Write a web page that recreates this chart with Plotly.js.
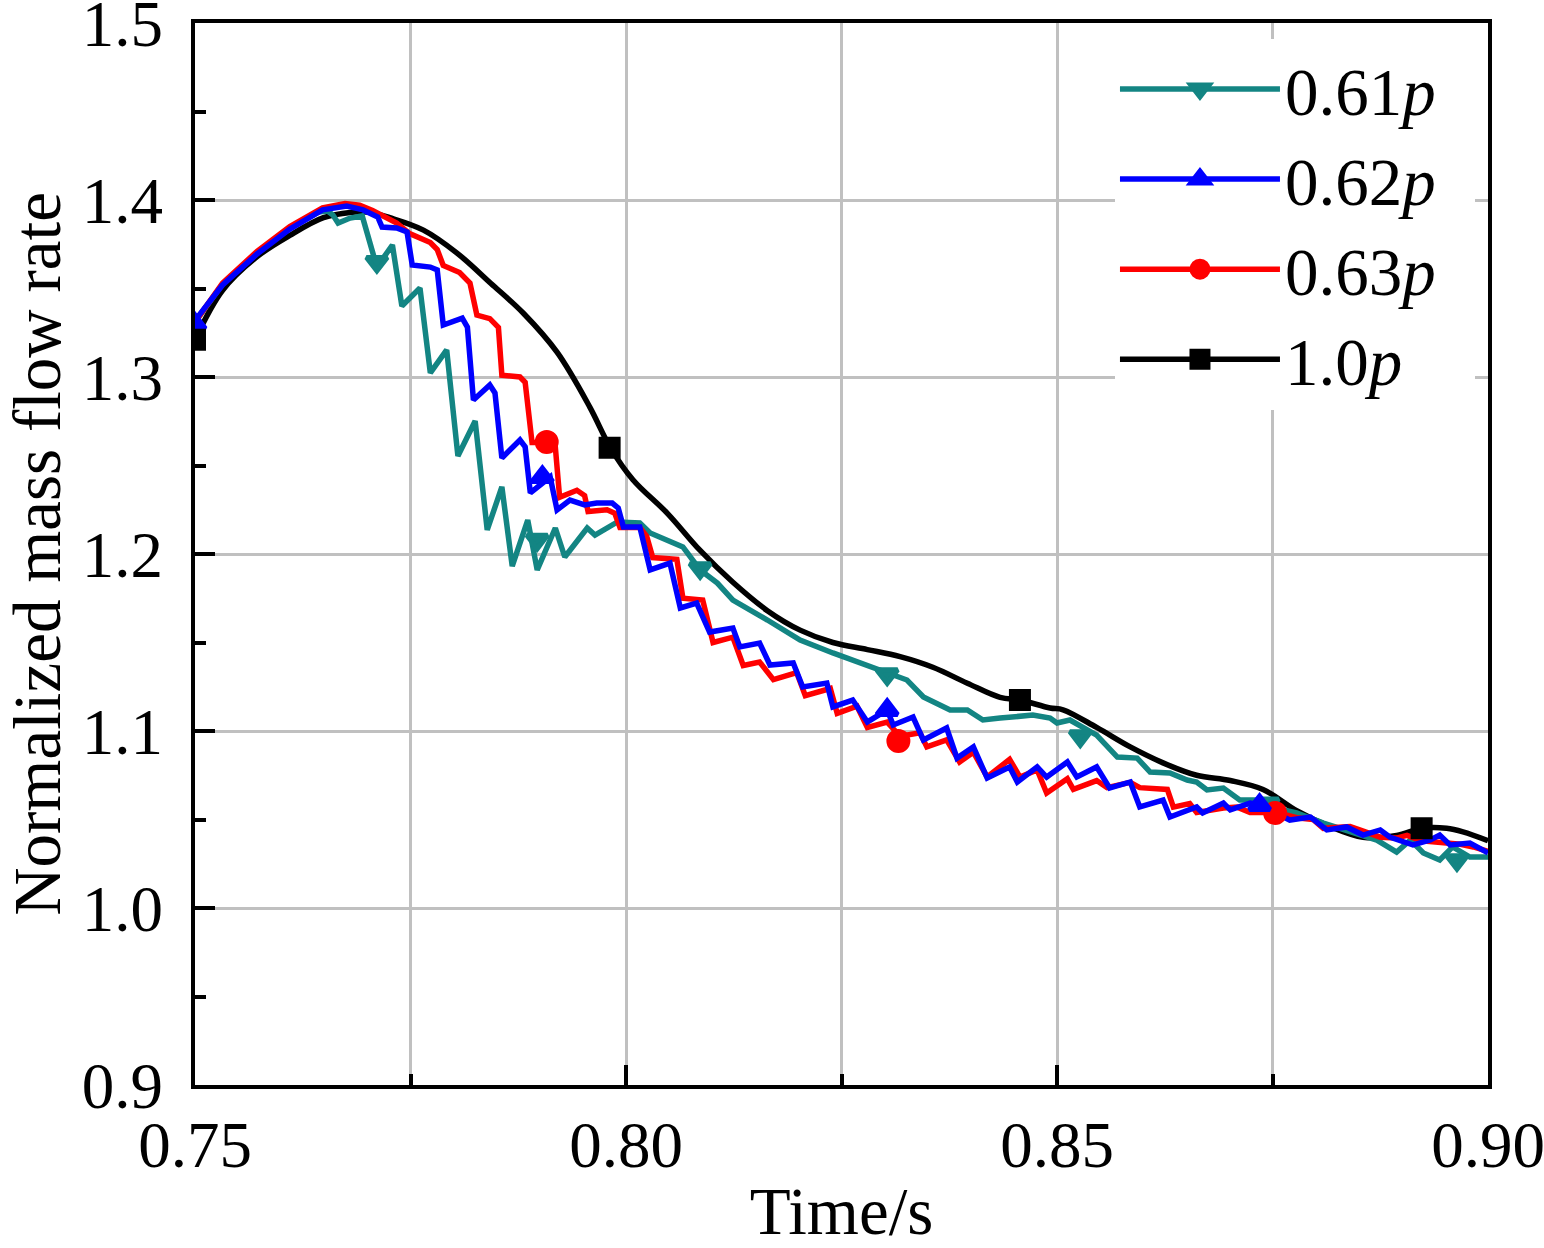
<!DOCTYPE html>
<html>
<head>
<meta charset="utf-8">
<script src="https://cdn.plot.ly/plotly-3.0.1.min.js"></script>
<style>
  html, body { margin: 0; padding: 0; background: #fff; }
  #myDiv { width: 1544px; height: 1248px; }
</style>
</head>
<body>
<div id="myDiv"></div>
<script>
// 1.0p
var x_p100 = [0.7500, 0.7532, 0.7572, 0.7610, 0.7649, 0.7680, 0.7703, 0.7726, 0.7765, 0.7804, 0.7843, 0.7881, 0.7920, 0.7958, 0.7982,
  0.8008, 0.8048, 0.8086, 0.8124, 0.8164, 0.8202, 0.8240, 0.8280, 0.8318, 0.8356, 0.8396, 0.8434, 0.8457, 0.8492, 0.8507, 0.8546,
  0.8585, 0.8623, 0.8662, 0.8701, 0.8739, 0.8778, 0.8817, 0.8855, 0.8894, 0.8923, 0.8952, 0.8971, 0.9000];
var y_p100 = [1.321, 1.349, 1.368, 1.380, 1.390, 1.393, 1.393, 1.390, 1.383, 1.370, 1.353, 1.336, 1.314, 1.283, 1.260,
  1.242, 1.223, 1.202, 1.184, 1.168, 1.157, 1.150, 1.146, 1.142, 1.136, 1.127, 1.119, 1.1175, 1.113, 1.112, 1.102,
  1.091, 1.082, 1.075, 1.072, 1.067, 1.055, 1.046, 1.040, 1.041, 1.045, 1.045, 1.043, 1.038];

// 0.63p
var x_p63 = [0.7500, 0.7532, 0.7572, 0.7610, 0.7648, 0.7674, 0.7691, 0.7706, 0.7734, 0.7749, 0.7773, 0.7781, 0.7788, 0.7807, 0.7819,
  0.7827, 0.7842, 0.7852, 0.7856, 0.7877, 0.7883, 0.7891, 0.7908, 0.7918, 0.7923, 0.7943, 0.7952, 0.7956, 0.7978, 0.7987,
  0.7993, 0.8016, 0.8024, 0.8031, 0.8059, 0.8066, 0.8089, 0.8101, 0.8124, 0.8136, 0.8155, 0.8171, 0.8198, 0.8208, 0.8237,
  0.8245, 0.8268, 0.8280, 0.8303, 0.8318, 0.8341, 0.8349, 0.8372, 0.8387, 0.8403, 0.8419, 0.8445, 0.8457, 0.8477, 0.8488,
  0.8512, 0.8519, 0.8546, 0.8558, 0.8585, 0.8596, 0.8628, 0.8635, 0.8654, 0.8662, 0.8693, 0.8709, 0.8724, 0.8755, 0.8778,
  0.8797, 0.8809, 0.8840, 0.8852, 0.8875, 0.8894, 0.8906, 0.8923, 0.8944, 0.8968, 0.8983, 0.9000];
var y_p63 = [1.331, 1.353, 1.371, 1.385, 1.3955, 1.398, 1.397, 1.394, 1.387, 1.381, 1.376, 1.372, 1.363, 1.359, 1.353,
  1.335, 1.333, 1.328, 1.301, 1.300, 1.297, 1.263, 1.263, 1.2605, 1.232, 1.236, 1.233, 1.224, 1.225, 1.223,
  1.215, 1.215, 1.210, 1.198, 1.197, 1.175, 1.174, 1.150, 1.153, 1.137, 1.139, 1.129, 1.133, 1.120, 1.124,
  1.110, 1.114, 1.102, 1.105, 1.097, 1.099, 1.091, 1.095, 1.0825, 1.088, 1.074, 1.084, 1.074, 1.078, 1.065,
  1.073, 1.067, 1.072, 1.068, 1.071, 1.068, 1.067, 1.057, 1.059, 1.054, 1.0565, 1.057, 1.054, 1.054, 1.051,
  1.050, 1.045, 1.046, 1.044, 1.040, 1.0395, 1.041, 1.038, 1.037, 1.036, 1.0345, 1.032];

// 0.62p
var x_p62 = [0.7500, 0.7532, 0.7572, 0.7610, 0.7648, 0.7676, 0.7695, 0.7712, 0.7717, 0.7734, 0.7746, 0.7752, 0.7773, 0.7781, 0.7788,
  0.7810, 0.7816, 0.7823, 0.7842, 0.7848, 0.7856, 0.7877, 0.7883, 0.7889, 0.7912, 0.7920, 0.7935, 0.7952, 0.7966, 0.7984,
  0.7991, 0.7997, 0.8016, 0.8028, 0.8051, 0.8063, 0.8082, 0.8097, 0.8124, 0.8132, 0.8155, 0.8167, 0.8194, 0.8205, 0.8233,
  0.8240, 0.8263, 0.8280, 0.8303, 0.8310, 0.8333, 0.8345, 0.8372, 0.8384, 0.8403, 0.8419, 0.8445, 0.8454, 0.8477, 0.8488,
  0.8512, 0.8523, 0.8546, 0.8561, 0.8585, 0.8596, 0.8623, 0.8631, 0.8662, 0.8669, 0.8693, 0.8701, 0.8724, 0.8735, 0.8770,
  0.8794, 0.8813, 0.8836, 0.8855, 0.8875, 0.8886, 0.8913, 0.8933, 0.8944, 0.8956, 0.8979, 0.9000];
var y_p62 = [1.332, 1.352, 1.3695, 1.3836, 1.3944, 1.3966, 1.3944, 1.3904, 1.3847, 1.3842, 1.3819, 1.3633, 1.3621, 1.3605, 1.3294,
  1.3333, 1.3282, 1.2870, 1.2955, 1.2910, 1.2542, 1.2644, 1.2605, 1.2345, 1.2435, 1.2249, 1.2305, 1.2277, 1.2288, 1.2288,
  1.2260, 1.2153, 1.2153, 1.1910, 1.1949, 1.1695, 1.1723, 1.1559, 1.1582, 1.1475, 1.1497, 1.1373, 1.1384, 1.1249, 1.1271,
  1.1136, 1.1175, 1.1051, 1.1119, 1.1034, 1.1079, 1.0949, 1.1017, 1.0847, 1.0910, 1.0734, 1.0797, 1.0712, 1.0797, 1.0740,
  1.0825, 1.0740, 1.0797, 1.0678, 1.0712, 1.0571, 1.0610, 1.0514, 1.0571, 1.0537, 1.0593, 1.0554, 1.0593, 1.0582, 1.0497,
  1.0514, 1.0441, 1.0458, 1.0412, 1.0441, 1.0401, 1.0356, 1.0384, 1.0412, 1.0356, 1.0367, 1.0311];

// 0.61p
var x_p61 = [0.7500, 0.7532, 0.7572, 0.7610, 0.7643, 0.7654, 0.7660, 0.7666, 0.7680, 0.7694, 0.7711, 0.7729, 0.7740, 0.7761, 0.7773,
  0.7792, 0.7805, 0.7825, 0.7839, 0.7856, 0.7868, 0.7886, 0.7897, 0.7918, 0.7929, 0.7955, 0.7964, 0.7990, 0.8016, 0.8028,
  0.8066, 0.8086, 0.8106, 0.8124, 0.8164, 0.8202, 0.8240, 0.8280, 0.8303, 0.8326, 0.8345, 0.8376, 0.8396, 0.8414, 0.8434,
  0.8472, 0.8492, 0.8500, 0.8515, 0.8546, 0.8570, 0.8593, 0.8608, 0.8631, 0.8651, 0.8662, 0.8674, 0.8693, 0.8712, 0.8732,
  0.8747, 0.8778, 0.8809, 0.8855, 0.8871, 0.8894, 0.8910, 0.8925, 0.8944, 0.8959, 0.8979, 0.9000];
var y_p61 = [1.331, 1.3525, 1.3701, 1.3842, 1.3932, 1.3938, 1.3915, 1.3870, 1.3898, 1.3910, 1.3621, 1.3746, 1.3401, 1.3503, 1.3023,
  1.3153, 1.2554, 1.2751, 1.2136, 1.2379, 1.1932, 1.2192, 1.1910, 1.2147, 1.1983, 1.2147, 1.2107, 1.2181, 1.2175, 1.2119,
  1.2040, 1.1910, 1.1836, 1.1740, 1.1627, 1.1514, 1.1441, 1.1373, 1.1333, 1.1288, 1.1192, 1.1119, 1.1119, 1.1062, 1.1073,
  1.1090, 1.1073, 1.1045, 1.1062, 1.0977, 1.0853, 1.0847, 1.0768, 1.0763, 1.0723, 1.0712, 1.0667, 1.0678, 1.0610, 1.0610,
  1.0571, 1.0537, 1.0480, 1.0412, 1.0384, 1.0316, 1.0384, 1.0311, 1.0271, 1.0345, 1.0288, 1.0288];

// marker positions (symbols sit on the curves)
var mx_p61 = [0.7711, 0.7897, 0.8086, 0.8303, 0.8527, 0.8745, 0.8964];
var my_p61 = [1.365, 1.208, 1.192, 1.132, 1.097, 1.059, 1.027];
var mx_p62 = [0.7500, 0.7903, 0.8303, 0.8735];
var my_p62 = [1.330, 1.2435, 1.1119, 1.0582];
var mx_p63 = [0.7908, 0.8316, 0.8753];
var my_p63 = [1.2633, 1.0944, 1.0537];
var mx_p100 = [0.7500, 0.7981, 0.8457, 0.8923];
var my_p100 = [1.321, 1.260, 1.1175, 1.045];

var names = ['0.61<i>p</i>', '0.62<i>p</i>', '0.63<i>p</i>', '1.0<i>p</i>'];
var colors = ['#138583', '#0000ff', '#ff0000', '#000000'];
var symbols = ['triangle-down', 'triangle-up', 'circle', 'square'];
// a 5px outline of the same colour is added, it also enlarges the legend symbols
var sizes = [18, 18, 19, 17];

// insert gaps so the legend trace draws markers only
function gapped(a) {
  var out = [];
  a.forEach(function (v, i) { if (i) out.push(null); out.push(v); });
  return out;
}

function curve(x, y, k, smooth) {
  return {
    x: x, y: y, type: 'scatter', mode: 'lines', showlegend: false,
    line: smooth ? {color: colors[k], width: 5.5, shape: 'spline', smoothing: 1}
                 : {color: colors[k], width: 5.5},
    hoverinfo: 'skip'
  };
}

function marks(x, y, k) {
  return {
    x: gapped(x), y: gapped(y), type: 'scatter', mode: 'lines+markers',
    // trailing no-break spaces pad the white legend box out to the frame
    name: names[k] + '\u00a0\u00a0', legendrank: k + 1, connectgaps: false,
    line: {color: colors[k], width: 5.5},
    marker: {color: colors[k], symbol: symbols[k], size: sizes[k],
             line: {color: colors[k], width: 5}},
    hoverinfo: 'skip'
  };
}

var data = [
  curve(x_p100, y_p100, 3, true),
  curve(x_p61, y_p61, 0),
  curve(x_p63, y_p63, 2),
  curve(x_p62, y_p62, 1),
  marks(mx_p61, my_p61, 0),
  marks(mx_p63, my_p63, 2),
  marks(mx_p62, my_p62, 1),
  marks(mx_p100, my_p100, 3)
];

var font = 'Liberation Serif, Times New Roman, serif';

var layout = {
  width: 1544,
  height: 1248,
  autosize: false,
  paper_bgcolor: '#fff',
  plot_bgcolor: '#fff',
  font: {family: font, size: 64, color: '#000'},
  margin: {l: 195, r: 56, t: 23, b: 163},
  showlegend: true,
  legend: {
    x: 0.7115, y: 0.985, xanchor: 'left', yanchor: 'top',
    bgcolor: '#fff', borderwidth: 0,
    font: {family: font, size: 67, color: '#000'},
    itemwidth: 160, tracegroupgap: 0
  },
  xaxis: {
    range: [0.75, 0.90],
    tickvals: [0.75, 0.80, 0.85, 0.90],
    ticktext: ['0.75', '0.80', '0.85', '0.90'],
    ticks: 'inside', ticklen: 20, tickwidth: 4, tickcolor: '#000',
    minor: {dtick: 0.025, tick0: 0.75, ticks: 'inside', ticklen: 11, tickwidth: 4, tickcolor: '#000',
            showgrid: true, gridcolor: '#c0c0c0', gridwidth: 3},
    showgrid: true, gridcolor: '#c0c0c0', gridwidth: 3,
    showline: true, linecolor: '#000', linewidth: 4, mirror: true,
    zeroline: false, ticklabeloverflow: 'allow',
    tickfont: {family: font, size: 65, color: '#000'},
    title: {text: 'Time/s', font: {family: font, size: 67, color: '#000'}, standoff: 18}
  },
  yaxis: {
    range: [0.9, 1.5],
    tickvals: [0.9, 1.0, 1.1, 1.2, 1.3, 1.4, 1.5],
    ticktext: ['0.9', '1.0', '1.1', '1.2', '1.3', '1.4', '1.5'],
    ticks: 'inside', ticklen: 20, tickwidth: 4, tickcolor: '#000',
    minor: {dtick: 0.05, tick0: 0.9, ticks: 'inside', ticklen: 11, tickwidth: 4, tickcolor: '#000', showgrid: false},
    showgrid: true, gridcolor: '#c0c0c0', gridwidth: 3,
    showline: true, linecolor: '#000', linewidth: 4, mirror: true,
    zeroline: false, ticklabeloverflow: 'allow', ticklabelstandoff: 15,
    tickfont: {family: font, size: 65, color: '#000'},
    title: {text: 'Normalized mass flow rate', font: {family: font, size: 67, color: '#000'}, standoff: 30}
  },
  hovermode: false
};

Plotly.newPlot('myDiv', data, layout, {displayModeBar: false, staticPlot: true});
</script>
</body>
</html>
